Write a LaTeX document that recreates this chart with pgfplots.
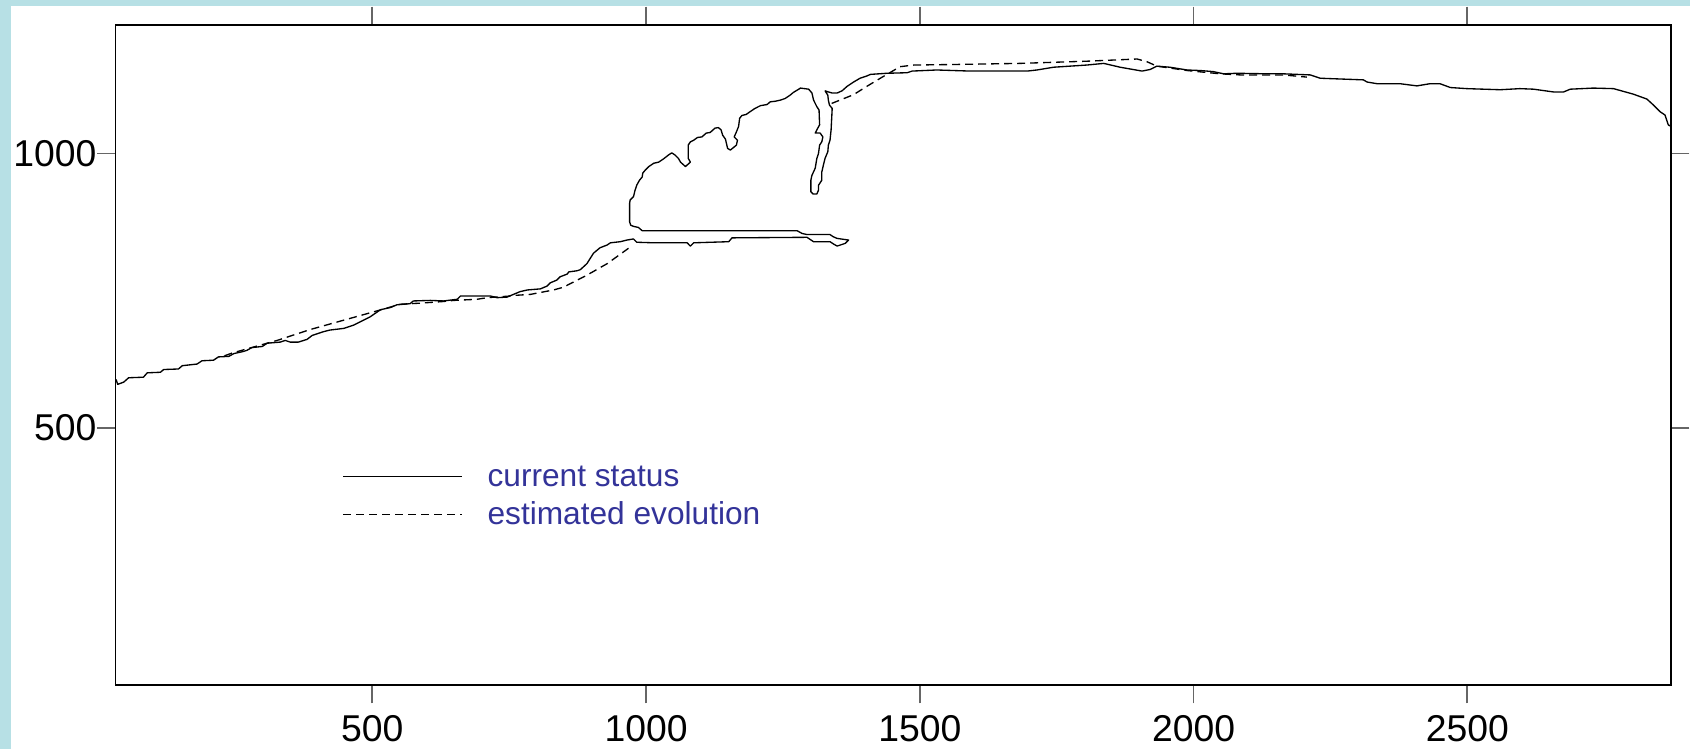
\documentclass[border=0pt]{standalone}
\usepackage{fontspec}
\setmainfont{Liberation Sans}
\usepackage{pgfplots}
\pgfplotsset{compat=1.18}
\definecolor{panelblue}{RGB}{183,224,229}
\definecolor{legendblue}{RGB}{51,51,153}

\begin{document}
\begin{tikzpicture}[x=1pt,y=1pt]
\useasboundingbox (0,0) rectangle (507,224.7);
\fill[panelblue] (0,0) rectangle (507,224.7);
\fill[white] (3.3,0) rectangle (507,222.9);
\begin{axis}[
  at={(34.65pt,19.2pt)}, anchor=south west,
  scale only axis, width=466.65pt, height=198pt,
  xmin=31, xmax=2872, ymin=31, ymax=1234,
  xtick={500,1000,1500,2000,2500}, ytick={500,1000},
  tick pos=both, xticklabel pos=lower, yticklabel pos=left,
  tick align=outside, major tick length=5.5pt,
  axis line style={line width=0.4pt, black},
  tick style={black!60, line width=0.5pt},
  ticklabel style={font=\fontsize{11.2}{12}\selectfont},
  /pgf/number format/assume math mode=true,
  /pgf/number format/1000 sep={},
  yticklabel style={inner xsep=1.6pt, xshift=1.6pt},
  xticklabel style={inner ysep=3.5pt},
  legend cell align=left,
  legend style={draw=none, fill=none, inner sep=0pt,
    at={(axis cs:444.5,437)}, anchor=north west,
    row sep=3.4pt, column sep=7.4pt,
    nodes={inner sep=0pt, text height=7pt, text depth=1pt,
      text=legendblue, font=\fontsize{9.5}{10}\selectfont}},
  legend image code/.code={%
    \path[draw=none, fill=none] (0pt,-4pt) rectangle (35.7pt,4pt);
    \draw[#1] (0pt,0pt) -- (35.7pt,0pt);},
]
% present front line
\addplot[black, line width=0.4pt, line join=round] coordinates {
(32,588) (35,579) (46,583) (55,591) (82,592) (89,600) (113,601) (119,606)
(146,607) (153,613) (180,616) (189,622) (210,623) (219,629) (238,630) (247,635)
(265,639) (271,641) (280,646) (299,648) (308,654) (332,656) (341,659) (350,656)
(365,656) (381,661) (390,668) (411,675) (423,678) (448,681) (466,687) (484,696)
(496,702) (515,715) (533,719) (545,724) (569,726) (575,731) (606,732) (630,731)
(655,734) (661,740) (679,740) (716,740) (728,737) (746,738) (770,748) (783,751)
(807,753) (819,758) (825,764) (837,769) (843,775) (856,780) (859,784) (874,786)
(880,788) (892,799) (904,818) (916,828) (929,833) (935,837) (953,839) (965,842)
(977,844) (983,838) (1014,837) (1075,837) (1081,831) (1087,837) (1151,839) (1157,846)
(1294,847) (1306,839) (1336,839) (1342,835) (1349,831) (1364,836) (1370,842) (1349,845)
(1342,848) (1336,852) (1294,852) (1285,854) (1276,859) (993,859) (986,865) (977,867)
(972,869) (970,875) (970,909) (971,915) (977,921) (980,933) (983,942) (988,951)
(993,957) (994,964) (999,970) (1005,976) (1014,982) (1023,984) (1032,990) (1041,997)
(1047,1001) (1053,997) (1059,991) (1063,984) (1072,976) (1081,984) (1077,991) (1077,1015)
(1081,1021) (1087,1024) (1094,1029) (1102,1030) (1110,1037) (1117,1038) (1126,1046) (1132,1047)
(1137,1043) (1140,1033) (1145,1026) (1149,1009) (1154,1006) (1165,1015) (1167,1024) (1161,1030)
(1165,1039) (1169,1049) (1171,1064) (1175,1069) (1183,1071) (1190,1076) (1199,1082) (1209,1087)
(1221,1089) (1227,1094) (1236,1095) (1245,1097) (1254,1100) (1263,1106) (1269,1111) (1279,1117)
(1282,1119) (1297,1117) (1303,1110) (1306,1097) (1312,1085) (1316,1079) (1317,1052) (1312,1043)
(1309,1037) (1318,1037) (1323,1030) (1321,1021) (1317,1015) (1315,1000) (1312,991) (1309,973)
(1303,960) (1301,951) (1301,930) (1305,926) (1312,926) (1315,933) (1315,942) (1321,951)
(1321,966) (1324,979) (1327,991) (1332,1003) (1333,1015) (1336,1024) (1338,1043) (1340,1082)
(1335,1088) (1333,1097) (1332,1106) (1327,1114) (1333,1112) (1340,1110) (1349,1110) (1358,1114)
(1367,1122) (1379,1130) (1391,1137) (1403,1141) (1410,1144) (1440,1146) (1477,1147) (1486,1150)
(1531,1152) (1592,1150) (1653,1150) (1696,1150) (1714,1152) (1744,1157) (1805,1161) (1836,1164)
(1866,1157) (1906,1150) (1921,1153) (1933,1159) (1957,1157) (1988,1152) (2012,1151) (2036,1149)
(2055,1145) (2079,1146) (2134,1145) (2164,1145) (2213,1143) (2231,1137) (2256,1136) (2310,1134)
(2317,1130) (2335,1127) (2377,1127) (2408,1123) (2432,1127) (2450,1127) (2469,1120) (2499,1118)
(2560,1116) (2596,1118) (2621,1117) (2657,1112) (2676,1112) (2688,1117) (2730,1119) (2767,1118)
(2785,1113) (2803,1108) (2828,1099) (2840,1088) (2852,1076) (2861,1070) (2864,1061) (2867,1052)
(2870,1050) (2872,1053)
};
\addlegendentry{current status}
% estimated front line, western section
\addplot[black, line width=0.4pt, dash pattern=on 2.4pt off 1.5pt] coordinates {
(230,631) (244,636) (326,659) (387,679) (448,696) (509,713) (551,725) (588,727)
(630,730) (649,732) (691,734) (710,737) (752,740) (758,741) (789,743) (831,751)
(849,756) (892,778) (929,799) (968,827)
};
\addlegendentry{estimated evolution}
% estimated front line, eastern section
\addplot[black, line width=0.4pt, dash pattern=on 2.4pt off 1.5pt, forget plot] coordinates {
(1339,1091) (1379,1107) (1403,1122) (1428,1137) (1440,1144) (1464,1158) (1489,1161) (1562,1162)
(1683,1164) (1805,1168) (1897,1172) (1915,1167) (1933,1159) (1988,1151) (2049,1145) (2085,1143)
(2134,1143) (2164,1143) (2207,1139)
};
\end{axis}
\end{tikzpicture}
\end{document}
